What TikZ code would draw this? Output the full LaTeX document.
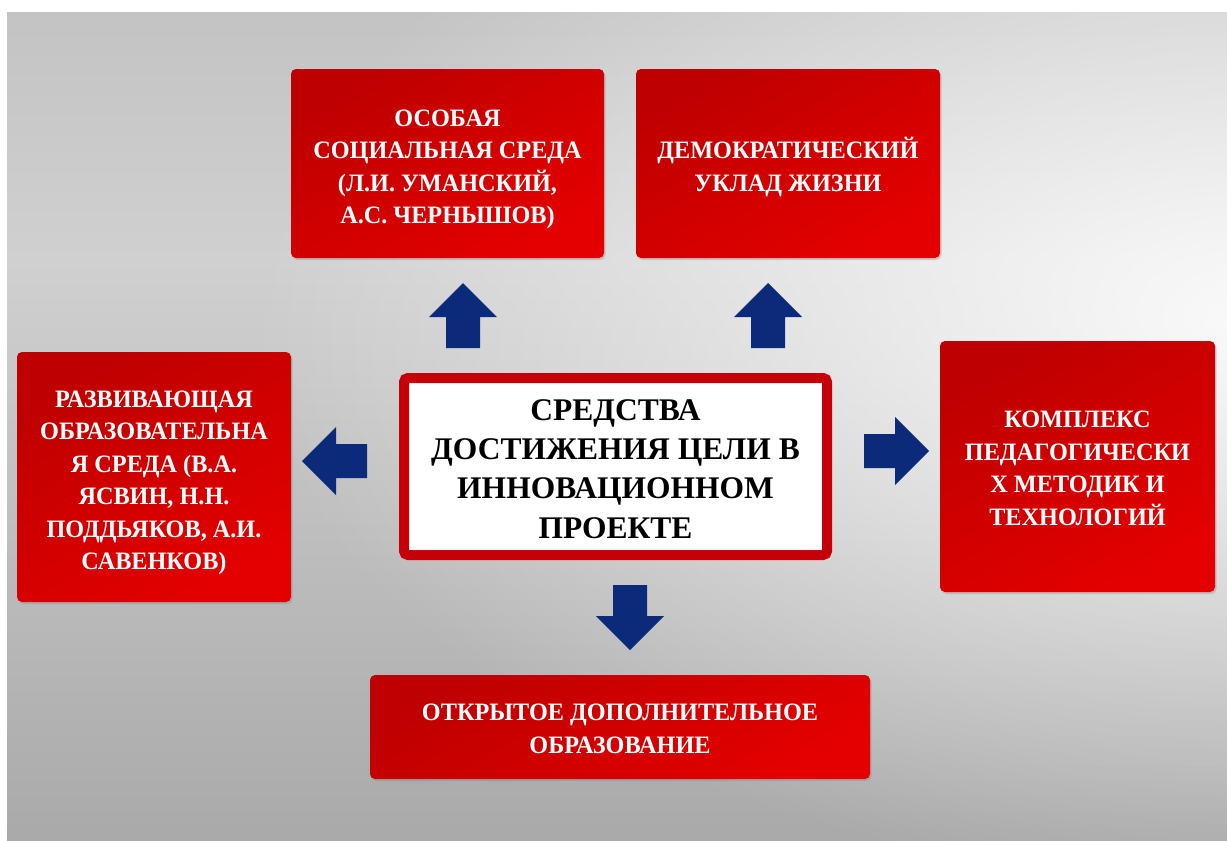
\documentclass[tikz,border=0pt]{standalone}
\usepackage{fontspec}
\setmainfont{Liberation Serif}
\newfontfamily\boxfont[FakeStretch=0.97]{Liberation Serif}
\usetikzlibrary{shadows,fadings}
\definecolor{bgtop}{RGB}{174,174,174}
\definecolor{bgmid}{RGB}{208,208,208}
\definecolor{bgbot}{RGB}{142,142,142}
\definecolor{boxdark}{RGB}{190,0,0}
\definecolor{boxlight}{RGB}{228,0,0}
\definecolor{framered}{RGB}{198,0,8}
\definecolor{arrowblue}{RGB}{12,42,122}
\pgfdeclareverticalshading{bgshade}{100bp}{color(0bp)=(bgbot); color(60bp)=(bgmid); color(100bp)=(bgtop)}
\tikzfading[name=glowfade, inner color=transparent!0, outer color=transparent!100]
\tikzset{
  redbox/.style={rounded corners=5pt, top color=boxdark, bottom color=boxlight, shading angle=30,
    inner sep=0pt, drop shadow={opacity=0.3, shadow xshift=1.5pt, shadow yshift=-2pt}},
  boxtext/.style={inner sep=0pt, text=white, align=center,
    font=\boxfont\bfseries\fontsize{25}{32.5}\selectfont},
  centerbox/.style={draw=framered, line width=10pt, fill=white, rounded corners=4pt,
    inner sep=0pt, drop shadow={opacity=0.3, shadow xshift=1.5pt, shadow yshift=-2pt}},
  centertext/.style={inner sep=0pt, text=black, align=center,
    font=\bfseries\fontsize{31.5}{39.3}\selectfont},
  blockarrow/.pic={\fill[arrowblue] (-17,0) -- (-17,-31) -- (-34,-31) -- (0,-65) -- (34,-31) -- (17,-31) -- (17,0) -- cycle;}
}
\begin{document}
\begin{tikzpicture}[x=1pt,y=-1pt]
\useasboundingbox (0,0) rectangle (1227,841);
\fill[white] (0,0) rectangle (1227,841);
\shade[shading=bgshade] (7,12) rectangle (1227,841);
\begin{scope}
  \clip (7,12) rectangle (1227,841);
  \fill[white, path fading=glowfade, fit fading=true, opacity=0.9] (1250,320) ellipse (1000 and 560);
\end{scope}

\node[redbox, minimum width=313, minimum height=189] (A) at (447.5,163.5) {};
\node[boxtext] (At) at ([yshift=-6pt]A.center)
  {ОСОБАЯ\\СОЦИАЛЬНАЯ СРЕДА\\(Л.И. УМАНСКИЙ,\\А.С. ЧЕРНЫШОВ)};
\node[redbox, minimum width=304, minimum height=189] (B) at (788,163.5) {};
\node[boxtext] (Bt) at ([yshift=-3.5pt]B.center)
  {ДЕМОКРАТИЧЕСКИЙ\\УКЛАД ЖИЗНИ};
\node[redbox, minimum width=274, minimum height=250] (L) at (154,477) {};
\node[boxtext] (Lt) at ([yshift=-6pt]L.center)
  {РАЗВИВАЮЩАЯ\\ОБРАЗОВАТЕЛЬНА\\Я СРЕДА (В.А.\\ЯСВИН, Н.Н.\\ПОДДЬЯКОВ, А.И.\\САВЕНКОВ)};
\node[redbox, minimum width=275, minimum height=251] (R) at (1077.5,466.5) {};
\node[boxtext] (Rt) at ([yshift=-2pt]R.center)
  {КОМПЛЕКС\\ПЕДАГОГИЧЕСКИ\\Х МЕТОДИК И\\ТЕХНОЛОГИЙ};
\node[redbox, minimum width=500, minimum height=104] (D) at (620,727) {};
\node[boxtext] (Dt) at ([yshift=-2pt]D.center)
  {ОТКРЫТОЕ ДОПОЛНИТЕЛЬНОЕ\\ОБРАЗОВАНИЕ};
\node[centerbox, minimum width=423, minimum height=177] (C) at (615.5,466.5) {};
\node[centertext] (Ct) at ([yshift=-2.5pt]C.center)
  {СРЕДСТВА\\ДОСТИЖЕНИЯ ЦЕЛИ В\\ИННОВАЦИОННОМ\\ПРОЕКТЕ};

\coordinate (aA) at (463,348);
\coordinate (aB) at (768,348);
\coordinate (aL) at (367,461);
\coordinate (aR) at (864,451);
\coordinate (aD) at (630,585);
\pic at (aA) {blockarrow};
\pic at (aB) {blockarrow};
\pic[rotate=90] at (aL) {blockarrow};
\pic[rotate=-90] at (aR) {blockarrow};
\pic[rotate=180] at (aD) {blockarrow};
\end{tikzpicture}
\end{document}
